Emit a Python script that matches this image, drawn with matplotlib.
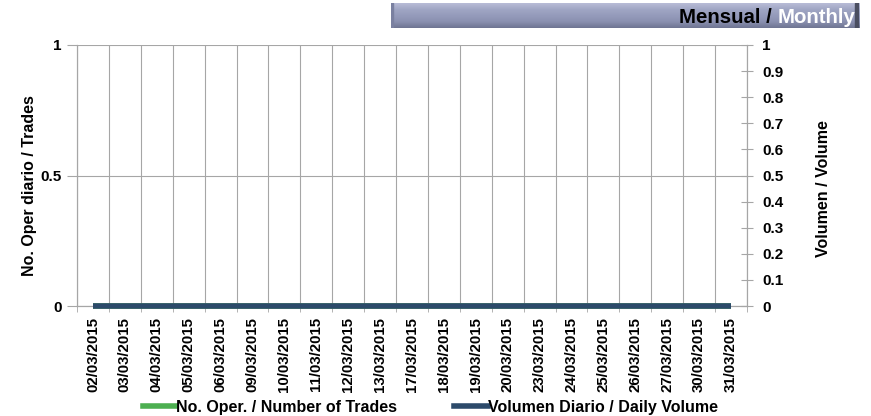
import numpy as np
import matplotlib.pyplot as plt
from matplotlib.colors import LinearSegmentedColormap
from matplotlib.patches import Rectangle

plt.rcParams["font.family"] = ["Liberation Sans", "DejaVu Sans"]
plt.rcParams["font.weight"] = "bold"

DATES = [
    "02/03/2015", "03/03/2015", "04/03/2015", "05/03/2015", "06/03/2015",
    "09/03/2015", "10/03/2015", "11/03/2015", "12/03/2015", "13/03/2015",
    "17/03/2015", "18/03/2015", "19/03/2015", "20/03/2015", "23/03/2015",
    "24/03/2015", "25/03/2015", "26/03/2015", "27/03/2015", "30/03/2015",
    "31/03/2015",
]
TRADES = [0, 0, 0, 0, 0, 0, 0, 0, 0, 0, 0, 0, 0, 0, 0, 0, 0, 0, 0, 0, 0]
VOLUME = [0, 0, 0, 0, 0, 0, 0, 0, 0, 0, 0, 0, 0, 0, 0, 0, 0, 0, 0, 0, 0]

LEFT_TICKS = [0, 0.5, 1]
RIGHT_TICKS = [0, 0.1, 0.2, 0.3, 0.4, 0.5, 0.6, 0.7, 0.8, 0.9, 1]

GREEN = "#4caf50"
NAVY = "#2c4a6a"
GRID = "#a6a6a6"
FS = 11.5

fig = plt.figure(figsize=(8.71, 4.16), dpi=100)

# title bar with bevel-like gradient
bar = fig.add_axes([391 / 871, 1 - 28 / 416, 468 / 871, 25 / 416])
grad = np.linspace(0, 1, 60).reshape(-1, 1)
cmap = LinearSegmentedColormap.from_list(
    "bar", ["#b8bcd6", "#a0a6c4", "#959bbb", "#8a90b0", "#6f7592"])
bar.imshow(grad, aspect="auto", cmap=cmap, extent=[0, 1, 0, 1], origin="upper")
bar.add_patch(Rectangle((0.991, 0), 0.009, 1, color="#4a4e60"))
bar.add_patch(Rectangle((0, 0), 0.005, 1, color="#7a80a0"))
bar.set_xlim(0, 1)
bar.set_ylim(0, 1)
bar.axis("off")
t2 = bar.text(0.993, 0.42, "Monthly", color="white", fontsize=14.7, fontweight="bold",
              ha="right", va="center")
fig.canvas.draw()
bb = t2.get_window_extent()
x_left = bar.transAxes.inverted().transform((bb.x0, bb.y0))[0]
bar.text(x_left, 0.42, "Mensual / ", color="black", fontsize=14.7, fontweight="bold",
         ha="right", va="center")

ax = fig.add_axes([77 / 871, 1 - 306 / 416, 670 / 871, 261 / 416])
ax2 = ax.twinx()

x = np.arange(len(DATES))
ax.plot(x, TRADES, color=GREEN, lw=4, solid_capstyle="butt", zorder=3, clip_on=False)
ax2.plot(x, VOLUME, color=NAVY, lw=4, solid_capstyle="butt", zorder=3, clip_on=False)

ax.set_xlim(-0.5, len(DATES) - 0.5)
ax.set_ylim(0, 1)
ax2.set_ylim(0, 1)

ax.set_xticks(x)
ax.set_xticklabels(DATES, rotation=90, fontsize=10.8, fontweight="bold")
ax.set_xticks(np.arange(len(DATES) + 1) - 0.5, minor=True)
ax.tick_params(axis="x", which="major", length=0, pad=8)
ax.tick_params(axis="x", which="minor", length=4, color=GRID)
ax.grid(axis="x", which="minor", color=GRID, lw=0.8)

ax.set_yticks(LEFT_TICKS)
ax.set_yticklabels(["0", "0.5", "1"], fontsize=11, fontweight="bold")
ax.tick_params(axis="y", length=7, color=GRID, pad=4)
ax.grid(axis="y", color=GRID, lw=0.8)

ax2.set_yticks(RIGHT_TICKS)
ax2.set_yticklabels(["0", "0.1", "0.2", "0.3", "0.4", "0.5", "0.6", "0.7", "0.8", "0.9", "1"],
                    fontsize=11, fontweight="bold")
ax2.tick_params(axis="y", length=8, color=GRID, pad=7, direction="inout")

for a in (ax, ax2):
    for s in a.spines.values():
        s.set_color(GRID)
        s.set_linewidth(0.8)
    a.spines["top"].set_visible(False)

ax.set_ylabel("No. Oper diario / Trades", fontsize=FS, fontweight="bold")
ax.yaxis.set_label_coords(-0.0597, 0.46)
ax2.set_ylabel("Volumen / Volume", fontsize=FS, fontweight="bold")
ax2.yaxis.set_label_coords(1.1025, 0.45)

h1 = plt.Line2D([], [], color=GREEN, lw=4)
h2 = plt.Line2D([], [], color=NAVY, lw=4)
fig.legend([h1, h2], ["No. Oper. / Number of Trades", "Volumen Diario / Daily Volume"],
           loc="lower center", bbox_to_anchor=(0.494, -0.032), ncol=2, frameon=False,
           fontsize=FS, handlelength=2.1, handletextpad=0.0, columnspacing=3.55)

fig.savefig("out.png", dpi=100)
